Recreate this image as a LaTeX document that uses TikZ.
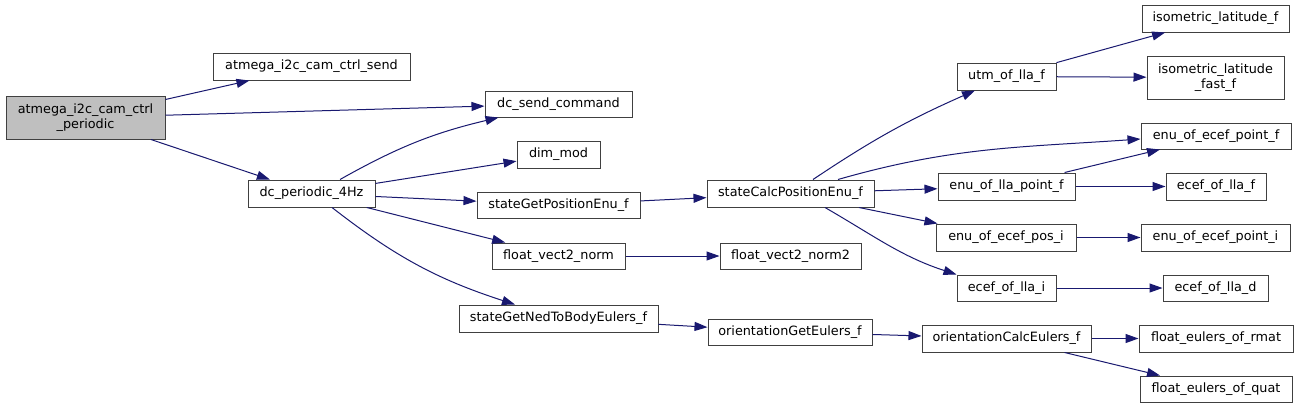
\documentclass[tikz,border=0pt]{standalone}
\usepackage{fontspec}
\setmainfont{DejaVu Sans}
\usetikzlibrary{arrows.meta}
\definecolor{edgecol}{RGB}{25,25,112}
\definecolor{boxline}{RGB}{64,64,64}
\definecolor{rootfill}{RGB}{191,191,191}
\tikzset{
  fnbox/.style={draw=boxline, line width=1pt, fill=white, inner sep=0pt, align=center,
    font=\fontsize{12.8}{15.5}\selectfont, minimum height=27pt},
  rootbox/.style={fnbox, fill=rootfill},
  edge/.style={draw=edgecol, line width=1pt, -{Triangle[length=13pt,width=9pt]}}
}
\begin{document}
\begin{tikzpicture}[x=1pt,y=1pt]
\path[use as bounding box, fill=white] (0,0) rectangle (1299,-408);
% nodes
\node[rootbox, minimum width=159pt, minimum height=43pt] (root) at (85.5,-117.5) {atmega\_i2c\_cam\_ctrl\\\_periodic};
\node[fnbox, minimum width=197pt] (send) at (311.5,-66.5) {atmega\_i2c\_cam\_ctrl\_send};
\node[fnbox, minimum width=127pt] (dcp) at (311.5,-193.5) {dc\_periodic\_4Hz};
\node[fnbox, minimum width=147pt, minimum height=26pt] (dcs) at (558.5,-104) {dc\_send\_command};
\node[fnbox, minimum width=83pt] (dim) at (558.5,-154.5) {dim\_mod};
\node[fnbox, minimum width=163pt, minimum height=26pt] (sgpe) at (558.5,-205) {stateGetPositionEnu\_f};
\node[fnbox, minimum width=133pt, minimum height=26pt] (fvn) at (558.5,-256) {float\_vect2\_norm};
\node[fnbox, minimum width=199pt] (sgned) at (558.5,-318.5) {stateGetNedToBodyEulers\_f};
\node[fnbox, minimum width=167pt] (scpe) at (790.5,-193.5) {stateCalcPositionEnu\_f};
\node[fnbox, minimum width=141pt, minimum height=26pt] (fvn2) at (790.5,-256) {float\_vect2\_norm2};
\node[fnbox, minimum width=164pt, minimum height=26pt] (oge) at (790,-332) {orientationGetEulers\_f};
\node[fnbox, minimum width=99pt] (utm) at (1006.5,-76.5) {utm\_of\_lla\_f};
\node[fnbox, minimum width=137pt] (elpf) at (1006.5,-186.5) {enu\_of\_lla\_point\_f};
\node[fnbox, minimum width=140pt] (eepi) at (1006,-237.5) {enu\_of\_ecef\_pos\_i};
\node[fnbox, minimum width=99pt, minimum height=26pt] (eoli) at (1006.5,-288) {ecef\_of\_lla\_i};
\node[fnbox, minimum width=169pt] (oce) at (1006.5,-338.5) {orientationCalcEulers\_f};
\node[fnbox, minimum width=147pt] (ilf) at (1215.5,-18.5) {isometric\_latitude\_f};
\node[fnbox, minimum width=137pt, minimum height=43pt] (ilff) at (1215.5,-77.5) {isometric\_latitude\\\_fast\_f};
\node[fnbox, minimum width=150pt, minimum height=26pt] (eepf) at (1216,-136) {enu\_of\_ecef\_point\_f};
\node[fnbox, minimum width=100pt] (eolf) at (1216,-186.5) {ecef\_of\_lla\_f};
\node[fnbox, minimum width=149pt] (eepti) at (1215.5,-237.5) {enu\_of\_ecef\_point\_i};
\node[fnbox, minimum width=105pt, minimum height=26pt] (eold) at (1215.5,-288) {ecef\_of\_lla\_d};
\node[fnbox, minimum width=154pt] (fer) at (1216,-338.5) {float\_eulers\_of\_rmat};
\node[fnbox, minimum width=152pt, minimum height=26pt] (feq) at (1216,-389) {float\_eulers\_of\_quat};
% edges
\draw[edge] (root) -- (send);
\draw[edge] (root) -- (dcs);
\draw[edge] (root) -- (dcp);
\draw[edge] ([xshift=28.5pt]dcp.north) to[bend left=8] ([xshift=-60pt]dcs.south);
\draw[edge] (dcp) -- (dim);
\draw[edge] (dcp) -- (sgpe);
\draw[edge] (dcp) -- (fvn);
\draw[edge] ([xshift=20.5pt]dcp.south) to[bend right=10] ([xshift=-43.5pt]sgned.north);
\draw[edge] (sgpe) -- (scpe);
\draw[edge] (fvn) -- (fvn2);
\draw[edge] (sgned) -- (oge);
\draw[edge] (oge) -- (oce);
\draw[edge] ([xshift=22.5pt]scpe.north) to[bend left=5] ([xshift=-31.5pt]utm.south);
\draw[edge] ([xshift=47.5pt]scpe.north) to[out=16, in=184] ([yshift=-3pt]eepf.west);
\draw[edge] (scpe) -- (elpf);
\draw[edge] (scpe) -- (eepi);
\draw[edge] ([xshift=34.5pt]scpe.south) to[out=-30, in=162] (eoli.north west);
\draw[edge] (utm) -- (ilf);
\draw[edge] (utm) -- (ilff);
\draw[edge] (elpf) -- (eepf);
\draw[edge] (elpf) -- (eolf);
\draw[edge] (eepi) -- (eepti);
\draw[edge] (eoli) -- (eold);
\draw[edge] (oce) -- (fer);
\draw[edge] (oce) -- (feq);
\end{tikzpicture}
\end{document}
